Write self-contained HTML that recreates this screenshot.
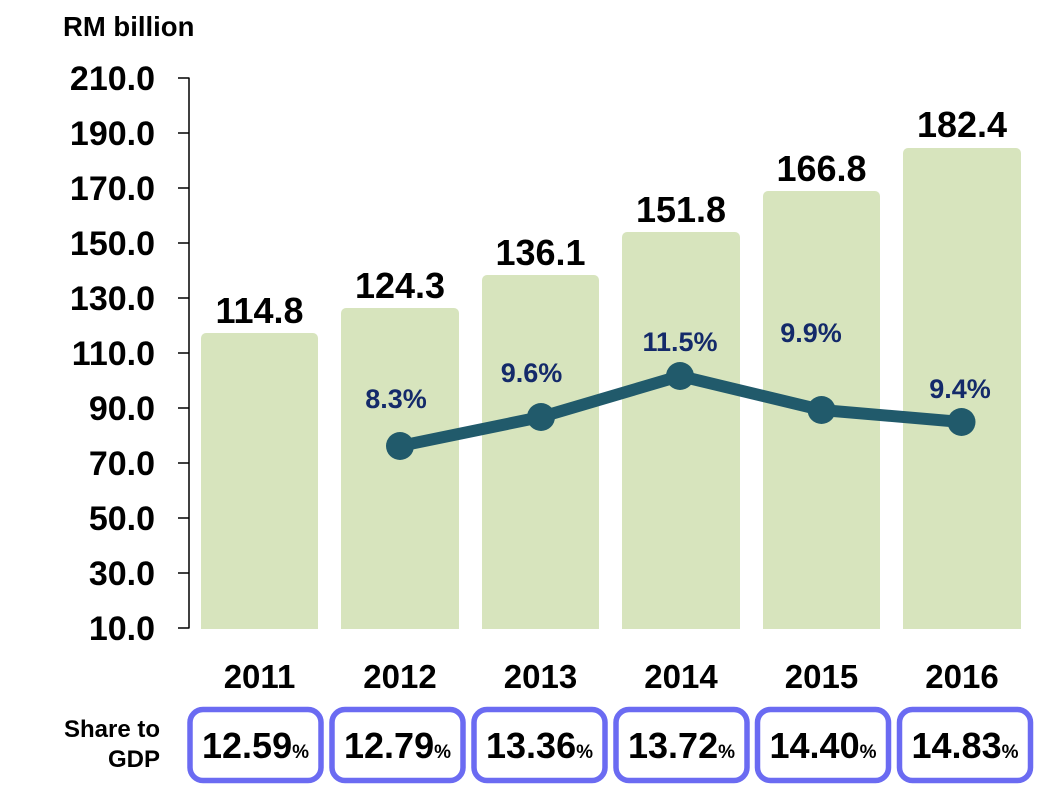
<!DOCTYPE html>
<html><head><meta charset="utf-8"><style>
html,body{margin:0;padding:0;background:#fff;}
svg{display:block;}
text{font-family:"Liberation Sans",Arial,sans-serif;font-weight:bold;}
</style></head><body>
<svg width="1055" height="790" viewBox="0 0 1055 790" xmlns="http://www.w3.org/2000/svg">
<rect width="1055" height="790" fill="#fff"/>
<text x="63" y="36" font-size="27.5" fill="#000">RM billion</text>
<!-- y axis -->
<g font-size="34" fill="#000" text-anchor="end">
<text x="155" y="90">210.0</text>
<text x="155" y="145">190.0</text>
<text x="155" y="200">170.0</text>
<text x="155" y="255">150.0</text>
<text x="155" y="310">130.0</text>
<text x="155" y="365">110.0</text>
<text x="155" y="420">90.0</text>
<text x="155" y="475">70.0</text>
<text x="155" y="530">50.0</text>
<text x="155" y="585">30.0</text>
<text x="155" y="640">10.0</text>
</g>
<g stroke="#000" stroke-width="1.5" fill="none">
<line x1="189" y1="77.5" x2="189" y2="628.5"/>
<line x1="178" y1="78" x2="189" y2="78"/>
<line x1="178" y1="133" x2="189" y2="133"/>
<line x1="178" y1="188" x2="189" y2="188"/>
<line x1="178" y1="243" x2="189" y2="243"/>
<line x1="178" y1="298" x2="189" y2="298"/>
<line x1="178" y1="353" x2="189" y2="353"/>
<line x1="178" y1="408" x2="189" y2="408"/>
<line x1="178" y1="463" x2="189" y2="463"/>
<line x1="178" y1="518" x2="189" y2="518"/>
<line x1="178" y1="573" x2="189" y2="573"/>
<line x1="178" y1="628" x2="189" y2="628"/>
</g>
<!-- bars -->
<g fill="#d7e4bd">
<rect x="201" y="333" width="117" height="296" rx="5"/><rect x="201" y="600" width="117" height="29"/>
<rect x="341" y="308" width="118" height="321" rx="5"/><rect x="341" y="600" width="118" height="29"/>
<rect x="482" y="275" width="117" height="354" rx="5"/><rect x="482" y="600" width="117" height="29"/>
<rect x="622" y="232" width="118" height="397" rx="5"/><rect x="622" y="600" width="118" height="29"/>
<rect x="763" y="191" width="117" height="438" rx="5"/><rect x="763" y="600" width="117" height="29"/>
<rect x="903" y="148" width="118" height="481" rx="5"/><rect x="903" y="600" width="118" height="29"/>
</g>
<!-- bar value labels -->
<g font-size="36" fill="#000" text-anchor="middle">
<text x="259.5" y="323">114.8</text>
<text x="400" y="298">124.3</text>
<text x="540.5" y="265">136.1</text>
<text x="681" y="222">151.8</text>
<text x="821.5" y="181">166.8</text>
<text x="962" y="137">182.4</text>
</g>
<!-- line -->
<polyline points="400,446 541,417 680,376 821.5,410 961.5,422" fill="none" stroke="#215a6b" stroke-width="12" stroke-linejoin="round"/>
<g fill="#215a6b">
<circle cx="400" cy="446" r="14"/>
<circle cx="541" cy="417" r="14"/>
<circle cx="680" cy="376" r="14"/>
<circle cx="821.5" cy="410" r="14"/>
<circle cx="961.5" cy="422" r="14"/>
</g>
<g font-size="27" fill="#142a6a" text-anchor="middle">
<text x="396" y="408">8.3%</text>
<text x="531.5" y="382">9.6%</text>
<text x="680" y="351">11.5%</text>
<text x="811" y="342">9.9%</text>
<text x="960" y="398">9.4%</text>
</g>
<!-- years -->
<g font-size="33" fill="#000" text-anchor="middle">
<text x="259.5" y="688">2011</text>
<text x="400" y="688">2012</text>
<text x="540.5" y="688">2013</text>
<text x="681" y="688">2014</text>
<text x="821.5" y="688">2015</text>
<text x="962" y="688">2016</text>
</g>
<!-- share to GDP -->
<g font-size="24" fill="#000" text-anchor="end">
<text x="160" y="737">Share to</text>
<text x="160" y="767">GDP</text>
</g>
<g fill="#fff" stroke="#6b6bf2" stroke-width="5.5">
<rect x="190" y="709.5" width="131" height="71" rx="13"/>
<rect x="332" y="709.5" width="131" height="71" rx="13"/>
<rect x="474" y="709.5" width="131" height="71" rx="13"/>
<rect x="616" y="709.5" width="131" height="71" rx="13"/>
<rect x="757.5" y="709.5" width="131" height="71" rx="13"/>
<rect x="899.5" y="709.5" width="131" height="71" rx="13"/>
</g>
<g font-size="36" fill="#000" text-anchor="middle">
<text x="255.5" y="758">12.59<tspan font-size="19">%</tspan></text>
<text x="397.5" y="758">12.79<tspan font-size="19">%</tspan></text>
<text x="539.5" y="758">13.36<tspan font-size="19">%</tspan></text>
<text x="681.5" y="758">13.72<tspan font-size="19">%</tspan></text>
<text x="823" y="758">14.40<tspan font-size="19">%</tspan></text>
<text x="965" y="758">14.83<tspan font-size="19">%</tspan></text>
</g>
</svg>
</body></html>
